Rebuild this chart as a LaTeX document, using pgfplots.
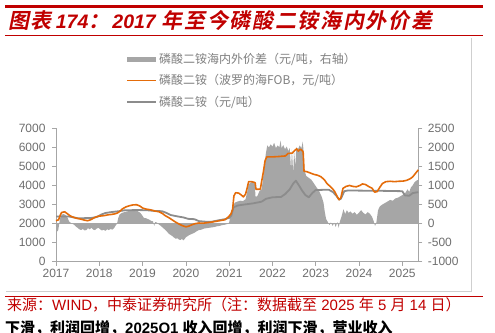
\documentclass[border=0pt]{standalone}
\usepackage{fontspec}
\usepackage{pgfplots}
\pgfplotsset{compat=1.18}
\setmainfont{Liberation Sans}
\newfontfamily\cjk{Noto Sans CJK SC}
\newfontfamily\cjkbi{Noto Sans CJK SC Bold}[FakeSlant=0.2, LetterSpace=8]
\newfontfamily\cjkb{Noto Sans CJK SC Bold}
\definecolor{titlered}{HTML}{C00000}
\definecolor{orng}{HTML}{E46C0A}
\definecolor{linegray}{HTML}{8C8C8C}
\definecolor{areagray}{HTML}{A6A6A6}
\definecolor{labgray}{HTML}{6E6E6E}
\definecolor{axgray}{HTML}{A6A6A6}
\definecolor{framegray}{HTML}{CFCFCF}
\definecolor{leggray}{HTML}{7F7F7F}

\pgfplotstableread{
x y
2017.00 2150
2017.06 2200
2017.10 2450
2017.13 2580
2017.20 2620
2017.26 2520
2017.32 2420
2017.40 2330
2017.48 2280
2017.58 2230
2017.66 2180
2017.73 2150
2017.80 2200
2017.88 2300
2017.96 2380
2018.04 2400
2018.12 2420
2018.20 2460
2018.28 2480
2018.36 2510
2018.42 2560
2018.48 2650
2018.54 2780
2018.62 2880
2018.70 2940
2018.78 2980
2018.86 2990
2018.93 2930
2019.00 2820
2019.08 2760
2019.17 2730
2019.28 2660
2019.38 2620
2019.46 2530
2019.52 2420
2019.60 2320
2019.68 2200
2019.76 2080
2019.84 1980
2019.92 1890
2020.00 1830
2020.06 1860
2020.14 1940
2020.22 2000
2020.30 2030
2020.40 2020
2020.50 2050
2020.60 2080
2020.70 2120
2020.80 2160
2020.90 2200
2020.98 2340
2021.04 2500
2021.08 2750
2021.11 3450
2021.15 3620
2021.22 3600
2021.28 3500
2021.33 3400
2021.38 3550
2021.42 3900
2021.45 4200
2021.52 4200
2021.60 4150
2021.62 3800
2021.72 3800
2021.75 4200
2021.79 4700
2021.83 5300
2021.87 5500
2022.00 5500
2022.15 5520
2022.30 5550
2022.36 5680
2022.46 5700
2022.52 5850
2022.56 5920
2022.60 5800
2022.64 5900
2022.68 5850
2022.71 5750
2022.73 4750
2022.80 4720
2022.88 4650
2022.96 4580
2023.04 4540
2023.12 4460
2023.20 4300
2023.26 4100
2023.32 3980
2023.38 3850
2023.44 3680
2023.50 3400
2023.54 3250
2023.58 3350
2023.63 3850
2023.70 3950
2023.78 4000
2023.86 3950
2023.94 3930
2024.02 4000
2024.08 4080
2024.15 4050
2024.22 3950
2024.30 3860
2024.36 3650
2024.42 3680
2024.48 3900
2024.54 4100
2024.62 4200
2024.72 4220
2024.82 4200
2024.92 4220
2025.02 4230
2025.10 4270
2025.18 4350
2025.24 4450
2025.30 4620
2025.37 4820
}\fob

\pgfplotstableread{
x y
2017.00 2370
2017.30 2370
2017.40 2330
2017.50 2280
2017.80 2290
2017.95 2350
2018.05 2480
2018.15 2560
2018.30 2610
2018.45 2650
2018.60 2700
2018.90 2710
2019.10 2700
2019.30 2660
2019.45 2650
2019.55 2560
2019.65 2450
2019.80 2380
2019.95 2320
2020.05 2250
2020.20 2230
2020.30 2130
2020.45 2100
2020.60 2100
2020.75 2170
2020.90 2230
2021.00 2300
2021.05 2420
2021.10 2850
2021.20 2950
2021.35 3000
2021.55 3060
2021.75 3150
2021.85 3300
2022.00 3380
2022.20 3400
2022.30 3560
2022.40 3800
2022.48 4100
2022.54 4250
2022.60 4050
2022.68 3750
2022.76 3500
2022.84 3380
2022.92 3600
2023.00 3760
2023.30 3780
2023.40 3650
2023.48 3450
2023.54 3260
2023.58 3300
2023.66 3700
2023.75 3740
2024.00 3730
2024.50 3720
2025.00 3700
2025.06 3480
2025.16 3460
2025.24 3600
2025.37 3650
}\dom

\pgfplotstableread{
x y
2017.00 -150
2017.02 -210
2017.05 -180
2017.07 -40
2017.09 120
2017.12 210
2017.16 250
2017.20 240
2017.24 200
2017.27 150
2017.30 60
2017.34 20
2017.38 -10
2017.42 -30
2017.46 -80
2017.50 -110
2017.54 -150
2017.58 -170
2017.62 -140
2017.66 -180
2017.70 -170
2017.74 -120
2017.78 -150
2017.82 -110
2017.86 -160
2017.90 -170
2017.94 -130
2017.98 -110
2018.02 -150
2018.06 -180
2018.10 -160
2018.14 -190
2018.18 -150
2018.22 -170
2018.26 -140
2018.30 -160
2018.34 -120
2018.38 -50
2018.41 0
2018.44 150
2018.47 240
2018.52 280
2018.58 300
2018.64 320
2018.70 330
2018.76 340
2018.82 350
2018.88 330
2018.94 290
2018.99 220
2019.03 150
2019.08 140
2019.12 120
2019.16 100
2019.20 70
2019.24 60
2019.27 -60
2019.29 40
2019.33 30
2019.37 -20
2019.41 -50
2019.45 -90
2019.49 -130
2019.53 -170
2019.57 -220
2019.61 -270
2019.65 -300
2019.69 -330
2019.73 -370
2019.77 -400
2019.80 -380
2019.84 -420
2019.88 -430
2019.91 -400
2019.94 -440
2019.97 -410
2020.00 -360
2020.04 -330
2020.08 -300
2020.12 -280
2020.16 -260
2020.20 -240
2020.25 -200
2020.30 -170
2020.36 -160
2020.42 -130
2020.48 -120
2020.54 -110
2020.60 -100
2020.66 -90
2020.72 -70
2020.78 -60
2020.84 -40
2020.90 -30
2020.96 -10
2021.00 30
2021.02 150
2021.06 350
2021.10 500
2021.15 560
2021.20 580
2021.26 600
2021.32 590
2021.38 640
2021.42 850
2021.45 1030
2021.50 1080
2021.55 1100
2021.59 1060
2021.61 700
2021.65 720
2021.70 850
2021.75 900
2021.78 1150
2021.82 1600
2021.85 1850
2021.88 2050
2021.92 2000
2021.96 2080
2022.00 2020
2022.04 2120
2022.08 1980
2022.12 2050
2022.16 2000
2022.19 2180
2022.21 1980
2022.25 2060
2022.29 1950
2022.33 2020
2022.37 1900
2022.40 1980
2022.43 1400
2022.45 1950
2022.48 1300
2022.50 1900
2022.53 1500
2022.55 2000
2022.59 1950
2022.63 2050
2022.67 1980
2022.70 2150
2022.72 1900
2022.74 1400
2022.78 1250
2022.84 1200
2022.90 1150
2022.96 1050
2023.02 950
2023.08 850
2023.14 700
2023.18 550
2023.21 300
2023.24 120
2023.28 40
2023.32 -40
2023.35 30
2023.39 -60
2023.43 20
2023.46 -90
2023.50 40
2023.53 -110
2023.56 60
2023.60 200
2023.64 380
2023.68 250
2023.72 350
2023.76 280
2023.80 320
2023.85 260
2023.90 300
2023.95 230
2024.00 290
2024.05 350
2024.10 280
2024.15 240
2024.20 300
2024.25 260
2024.30 180
2024.34 60
2024.37 -60
2024.40 20
2024.44 350
2024.48 450
2024.54 500
2024.60 540
2024.66 580
2024.72 620
2024.78 600
2024.84 660
2024.90 680
2024.96 720
2025.02 760
2025.08 820
2025.12 900
2025.16 830
2025.20 950
2025.24 1000
2025.28 1080
2025.33 1130
2025.37 1150
}\spread

\begin{document}
\begin{tikzpicture}[x=1pt,y=1pt]
\useasboundingbox (0,0) rectangle (495,332);
% header
\fill[titlered] (5,324) rectangle (483,326.5);
\draw[titlered, line width=0.9pt] (5,296.3) -- (483,296.3);
\node[anchor=base west, inner sep=0, text=titlered] at (8,303)
  {\fontsize{21}{21}\selectfont{\cjkbi 图表}\hspace{4pt}{\fontsize{19.5}{19.5}\selectfont\bfseries\itshape 174}{\cjkbi ：}\hspace{3pt}{\fontsize{19.5}{19.5}\selectfont\bfseries\itshape 2017}\hspace{6pt}{\cjkbi 年至今磷酸二铵海内外价差}};
% frame
\draw[framegray, line width=0.8pt] (6,41) -- (471,41) -- (471,294);
% source
\draw[titlered, line width=0.8pt] (5,36) -- (483,36);
\node[anchor=base west, inner sep=0, text=titlered] at (7,21.5)
  {\fontsize{15}{15}\selectfont{\cjk 来源：}WIND{\cjk ，中泰证券研究所（注：数据截至} 2025 {\cjk 年} 5 {\cjk 月} 14 {\cjk 日）}};
\node[anchor=base west, inner sep=0, text=black] at (5,-1)
  {\fontsize{15}{15}\selectfont\bfseries{\cjkb 下滑，利润回增，}2025Q1 {\cjkb 收入回增，利润下滑，营业收入}};
% legend
\fill[areagray] (127,270.4) rectangle (156,275);
\draw[orng, line width=1.6pt] (127,251.3) -- (156,251.3);
\draw[linegray, line width=1.8pt] (127,229.7) -- (156,229.7);
\begin{scope}[every node/.style={anchor=west, inner sep=0, text=leggray, font=\fontsize{12}{12}\selectfont\cjk}]
\node at (159,272.7) {磷酸二铵海内外价差（元/吨，右轴）};
\node at (159,251.3) {磷酸二铵（波罗的海FOB，元/吨）};
\node at (159,229.7) {磷酸二铵（元/吨）};
\end{scope}
% right axis: spread area
\begin{axis}[at={(56pt,70.3pt)}, anchor=south west, scale only axis,
  width=362.3pt, height=133.4pt,
  xmin=2017, xmax=2025.37, ymin=-1000, ymax=2500,
  axis x line=none, axis y line*=right,
  axis line style={-, color=axgray, line width=0.8pt},
  ytick={-1000,-500,0,500,1000,1500,2000,2500},
  yticklabels={-1000,-500,0,500,1000,1500,2000,2500},
  tick align=outside, major tick length=4pt,
  tick style={color=axgray, line width=0.6pt},
  yticklabel style={font=\fontsize{12}{12}\selectfont, text=labgray, xshift=2pt},
  clip=false]
\addplot[fill=areagray, draw=none] table[x=x,y=y] {\spread} \closedcycle;
\addplot[areagray, line width=0.6pt] coordinates {(2017,0) (2025.37,0)};
\end{axis}
% left axis: price lines
\begin{axis}[at={(56pt,70.3pt)}, anchor=south west, scale only axis,
  width=362.3pt, height=133.4pt,
  xmin=2017, xmax=2025.37, ymin=0, ymax=7000,
  axis x line*=bottom, axis y line*=left,
  axis line style={-, color=axgray, line width=0.8pt},
  xtick={2017,2018,2019,2020,2021,2022,2023,2024,2025},
  xticklabels={2017,2018,2019,2020,2021,2022,2023,2024,2025},
  ytick={0,1000,2000,3000,4000,5000,6000,7000},
  yticklabels={0,1000,2000,3000,4000,5000,6000,7000},
  tick align=outside, major tick length=4pt,
  tick style={color=axgray, line width=0.6pt},
  yticklabel style={font=\fontsize{12}{12}\selectfont, text=labgray, xshift=-3pt},
  xticklabel style={font=\fontsize{12}{12}\selectfont, text=labgray},
  clip=false]
\addplot[linegray, line width=1.8pt, line join=round] table[x=x,y=y] {\dom};
\addplot[orng, line width=1.6pt, line join=round] table[x=x,y=y] {\fob};
\end{axis}
\end{tikzpicture}
\end{document}
